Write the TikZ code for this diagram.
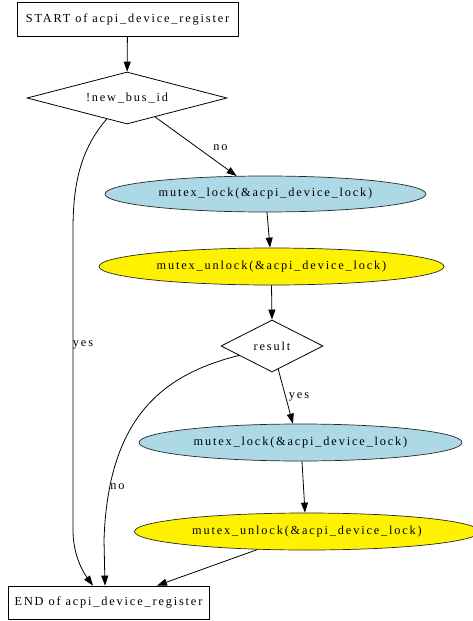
\documentclass[tikz,border=0pt]{standalone}
\usepackage{fontspec}
\setmainfont{Liberation Serif}[LetterSpace=15]
\usetikzlibrary{shapes.geometric,arrows.meta}
\definecolor{lockblue}{RGB}{173,216,230}
\begin{document}
\begin{tikzpicture}[x=1pt,y=-1pt,
  every node/.style={font=\fontsize{12.3}{14}\selectfont, inner sep=0pt},
  termbox/.style={draw, rectangle, line width=0.8pt},
  test/.style={draw, diamond, aspect=3.9, line width=0.8pt},
  lockop/.style={draw=black!85, ellipse, fill=lockblue, line width=0.7pt},
  unlockop/.style={draw=black!85, ellipse, fill=yellow, line width=0.7pt},
  flow/.style={line width=0.8pt, -{Triangle[length=10pt,width=7pt]}}]
\useasboundingbox (0,0) rectangle (472,621);

% nodes of the flow
\node[termbox, minimum width=221pt, minimum height=34pt] (s) at (127.5,19) {START of acpi\_device\_register};
\node[test, minimum width=200pt, minimum height=52pt] (d1) at (127,98) {!new\_bus\_id};
\node[lockop, minimum width=321pt, minimum height=36pt] (l1) at (265.5,194) {mutex\_lock(\&acpi\_device\_lock)};
\node[unlockop, minimum width=345pt, minimum height=37pt] (u1) at (271.5,266.5) {mutex\_unlock(\&acpi\_device\_lock)};
\node[test, minimum width=102pt, minimum height=52pt] (r) at (272,346) {result};
\node[lockop, minimum width=323pt, minimum height=37pt] (l2) at (300.5,442.5) {mutex\_lock(\&acpi\_device\_lock)};
\node[unlockop, minimum width=345pt, minimum height=37pt] (u2) at (307,531.5) {mutex\_unlock(\&acpi\_device\_lock)};
\node[termbox, minimum width=201pt, minimum height=33pt] (e) at (108.5,602.5) {END of acpi\_device\_register};

% connectors
\draw[flow] (s) -- (d1);
\draw[flow] (d1.-34) -- (l1.148);
\draw[flow] ([xshift=1.5pt]l1.south) -- ([xshift=-1.5pt]u1.north);
\draw[flow] (u1.south) -- (r.north);
\draw[flow] (r.-75) -- (l2.112);
\draw[flow] ([xshift=1.5pt]l2.south) -- ([xshift=-2pt]u2.north);
\draw[flow] (u2.200) -- ([xshift=48.5pt]e.north);
\draw[flow] (d1.226) .. controls (80,150) and (73,185) .. (73,230) -- (73,530)
  .. controls (73,555) and (83,572) .. ([xshift=-15.5pt]e.north);
\draw[flow] (r.196) .. controls (160,375) and (108,420) .. (104,540) -- ([xshift=-3.5pt]e.north);

% branch labels
\node (ln1) at (220.5,148) {no};
\node (ly1) at (83,345) {yes};
\node (ly2) at (299,397) {yes};
\node (ln2) at (117.5,487) {no};
\end{tikzpicture}
\end{document}
